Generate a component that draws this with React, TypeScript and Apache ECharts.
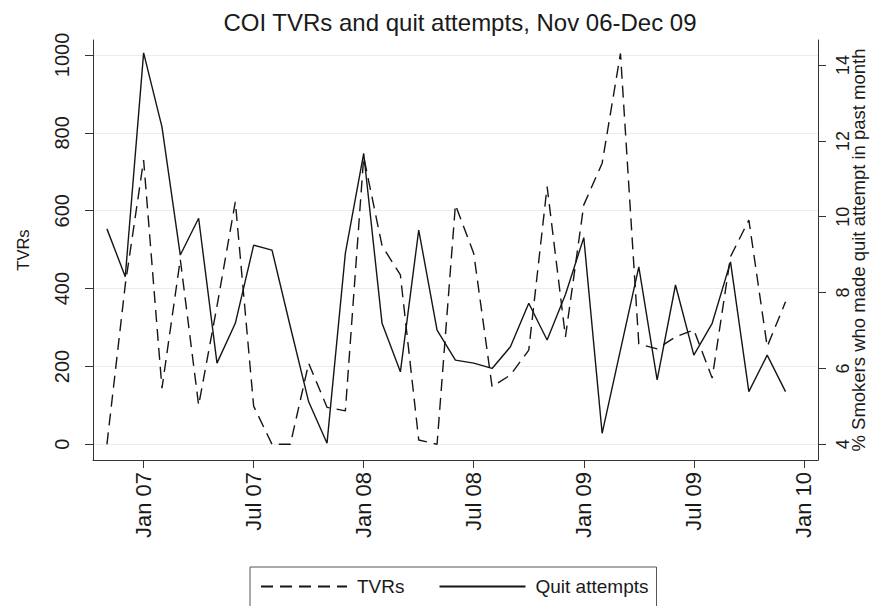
import React, { useEffect, useRef } from 'react';
import * as echarts from 'echarts';

const months = [
  'Nov 06', 'Dec 06',
  'Jan 07', 'Feb 07', 'Mar 07', 'Apr 07', 'May 07', 'Jun 07', 'Jul 07', 'Aug 07', 'Sep 07', 'Oct 07', 'Nov 07', 'Dec 07',
  'Jan 08', 'Feb 08', 'Mar 08', 'Apr 08', 'May 08', 'Jun 08', 'Jul 08', 'Aug 08', 'Sep 08', 'Oct 08', 'Nov 08', 'Dec 08',
  'Jan 09', 'Feb 09', 'Mar 09', 'Apr 09', 'May 09', 'Jun 09', 'Jul 09', 'Aug 09', 'Sep 09', 'Oct 09', 'Nov 09', 'Dec 09',
];

const tvrs = [
  0, 410,
  730, 144, 475, 100, 355, 623, 98, 0, 0, 208, 95, 86,
  738, 510, 435, 11, 0, 615, 490, 148, 178, 242, 662, 276,
  615, 722, 1004, 258, 245, 276, 294, 170, 482, 576, 251, 366,
];

const quitAttempts = [
  9.68, 8.42,
  14.32, 12.37, 8.99, 9.96, 6.14, 7.19, 9.25, 9.12, 7.1, 5.12, 4.03, 9.04,
  11.67, 7.19, 5.91, 9.65, 7.01, 6.22, 6.14, 6.0, 6.57, 7.72, 6.75, 7.95,
  9.45, 4.29, 6.49, 8.68, 5.7, 8.2, 6.35, 7.19, 8.81, 5.39, 6.35, 5.39,
];

const xTickLabels = ['Jan 07', 'Jul 07', 'Jan 08', 'Jul 08', 'Jan 09', 'Jul 09', 'Jan 10'];
const leftTicks = [0, 200, 400, 600, 800, 1000];
const rightTicks = [4, 6, 8, 10, 12, 14];

const FONT = '"Liberation Sans", Arial, sans-serif';
const AXIS_COLOR = '#333333';
const TEXT_COLOR = '#1a1a1a';

export default function App() {
  const ref = useRef<HTMLDivElement>(null);

  useEffect(() => {
    document.body.style.margin = '0';
    if (!ref.current) return;
    const chart = echarts.init(ref.current, null, { renderer: 'svg' });

    // month offset relative to Jan 07 (first month in list is Nov 06)
    const firstOffset = -2;
    const xVal = (i: number) => i + firstOffset;
    const xTickValues = xTickLabels.map((_, i) => i * 6);

    const axisLineStyle = { color: AXIS_COLOR, width: 1 };

    chart.setOption({
      animation: false,
      backgroundColor: '#ffffff',
      title: {
        text: 'COI TVRs and quit attempts, Nov 06-Dec 09',
        left: 455,
        top: 5,
        textAlign: 'center',
        textStyle: { fontFamily: FONT, fontSize: 24, fontWeight: 'normal', color: TEXT_COLOR },
      },
      legend: {
        left: 250,
        top: 567,
        padding: [10, 8, 40, 10],
        itemGap: 34,
        itemWidth: 86,
        itemHeight: 14,
        borderColor: '#555555',
        borderWidth: 1,
        borderRadius: 0,
        itemStyle: { color: 'rgba(0,0,0,0)', borderColor: 'rgba(0,0,0,0)', borderWidth: 0, opacity: 0 },
        textStyle: { fontFamily: FONT, fontSize: 19, color: TEXT_COLOR, padding: [0, 0, 0, 5] },
        data: ['TVRs', 'Quit attempts'],
      },
      grid: { left: 93, right: 54, top: 40, bottom: 146, containLabel: false, outerBoundsMode: 'none' },
      xAxis: {
        type: 'value',
        min: -2.76,
        max: 36.77,
        axisLine: { show: true, onZero: false, lineStyle: axisLineStyle },
        axisTick: { show: true, length: 8, customValues: xTickValues, lineStyle: axisLineStyle },
        axisLabel: {
          customValues: xTickValues,
          rotate: 90,
          margin: 12,
          fontSize: 22,
          fontFamily: FONT,
          color: TEXT_COLOR,
          formatter: (v: number) => xTickLabels[Math.round(v / 6)] ?? '',
        },
        splitLine: { show: false },
      },
      yAxis: [
        {
          type: 'value',
          position: 'left',
          min: -40.3,
          max: 1038.5,
          name: 'TVRs',
          nameLocation: 'middle',
          nameGap: 62,
          nameMoveOverlap: false,
          nameTextStyle: { fontFamily: FONT, fontSize: 16.5, color: TEXT_COLOR },
          axisLine: { show: true, onZero: false, lineStyle: axisLineStyle },
          axisTick: { show: true, length: 8, customValues: leftTicks, lineStyle: axisLineStyle },
          axisLabel: {
            customValues: leftTicks,
            rotate: 90,
            margin: 21,
            fontSize: 20,
            fontFamily: FONT,
            color: TEXT_COLOR,
            formatter: (v: number) => String(v),
          },
          splitLine: { show: true, lineStyle: { color: '#e7eef1', width: 1 } },
        },
        {
          type: 'value',
          position: 'right',
          min: 3.586,
          max: 14.66,
          name: '% Smokers who made quit attempt in past month',
          nameLocation: 'middle',
          nameGap: 31,
          nameMoveOverlap: false,
          nameTextStyle: { fontFamily: FONT, fontSize: 18.5, color: TEXT_COLOR },
          axisLine: { show: true, onZero: false, lineStyle: axisLineStyle },
          axisTick: { show: true, length: 8, customValues: rightTicks, lineStyle: axisLineStyle },
          axisLabel: {
            customValues: rightTicks,
            rotate: 90,
            margin: 16,
            fontSize: 18,
            fontFamily: FONT,
            color: TEXT_COLOR,
            formatter: (v: number) => String(v),
          },
          splitLine: { show: false },
        },
      ],
      series: [
        {
          name: 'TVRs',
          type: 'line',
          yAxisIndex: 0,
          symbol: 'none',
          clip: false,
          lineStyle: { color: '#151515', width: 1.4, type: [12, 7] },
          itemStyle: { color: '#151515' },
          data: tvrs.map((v, i) => [xVal(i), v]),
        },
        {
          name: 'Quit attempts',
          type: 'line',
          yAxisIndex: 1,
          symbol: 'none',
          clip: false,
          lineStyle: { color: '#151515', width: 1.4, type: 'solid' },
          itemStyle: { color: '#151515' },
          data: quitAttempts.map((v, i) => [xVal(i), v]),
        },
      ],
    });

    return () => {
      chart.dispose();
    };
  }, []);

  return (
    <div
      ref={ref}
      style={{ position: 'absolute', left: 0, top: 0, width: 872, height: 606 }}
    />
  );
}
